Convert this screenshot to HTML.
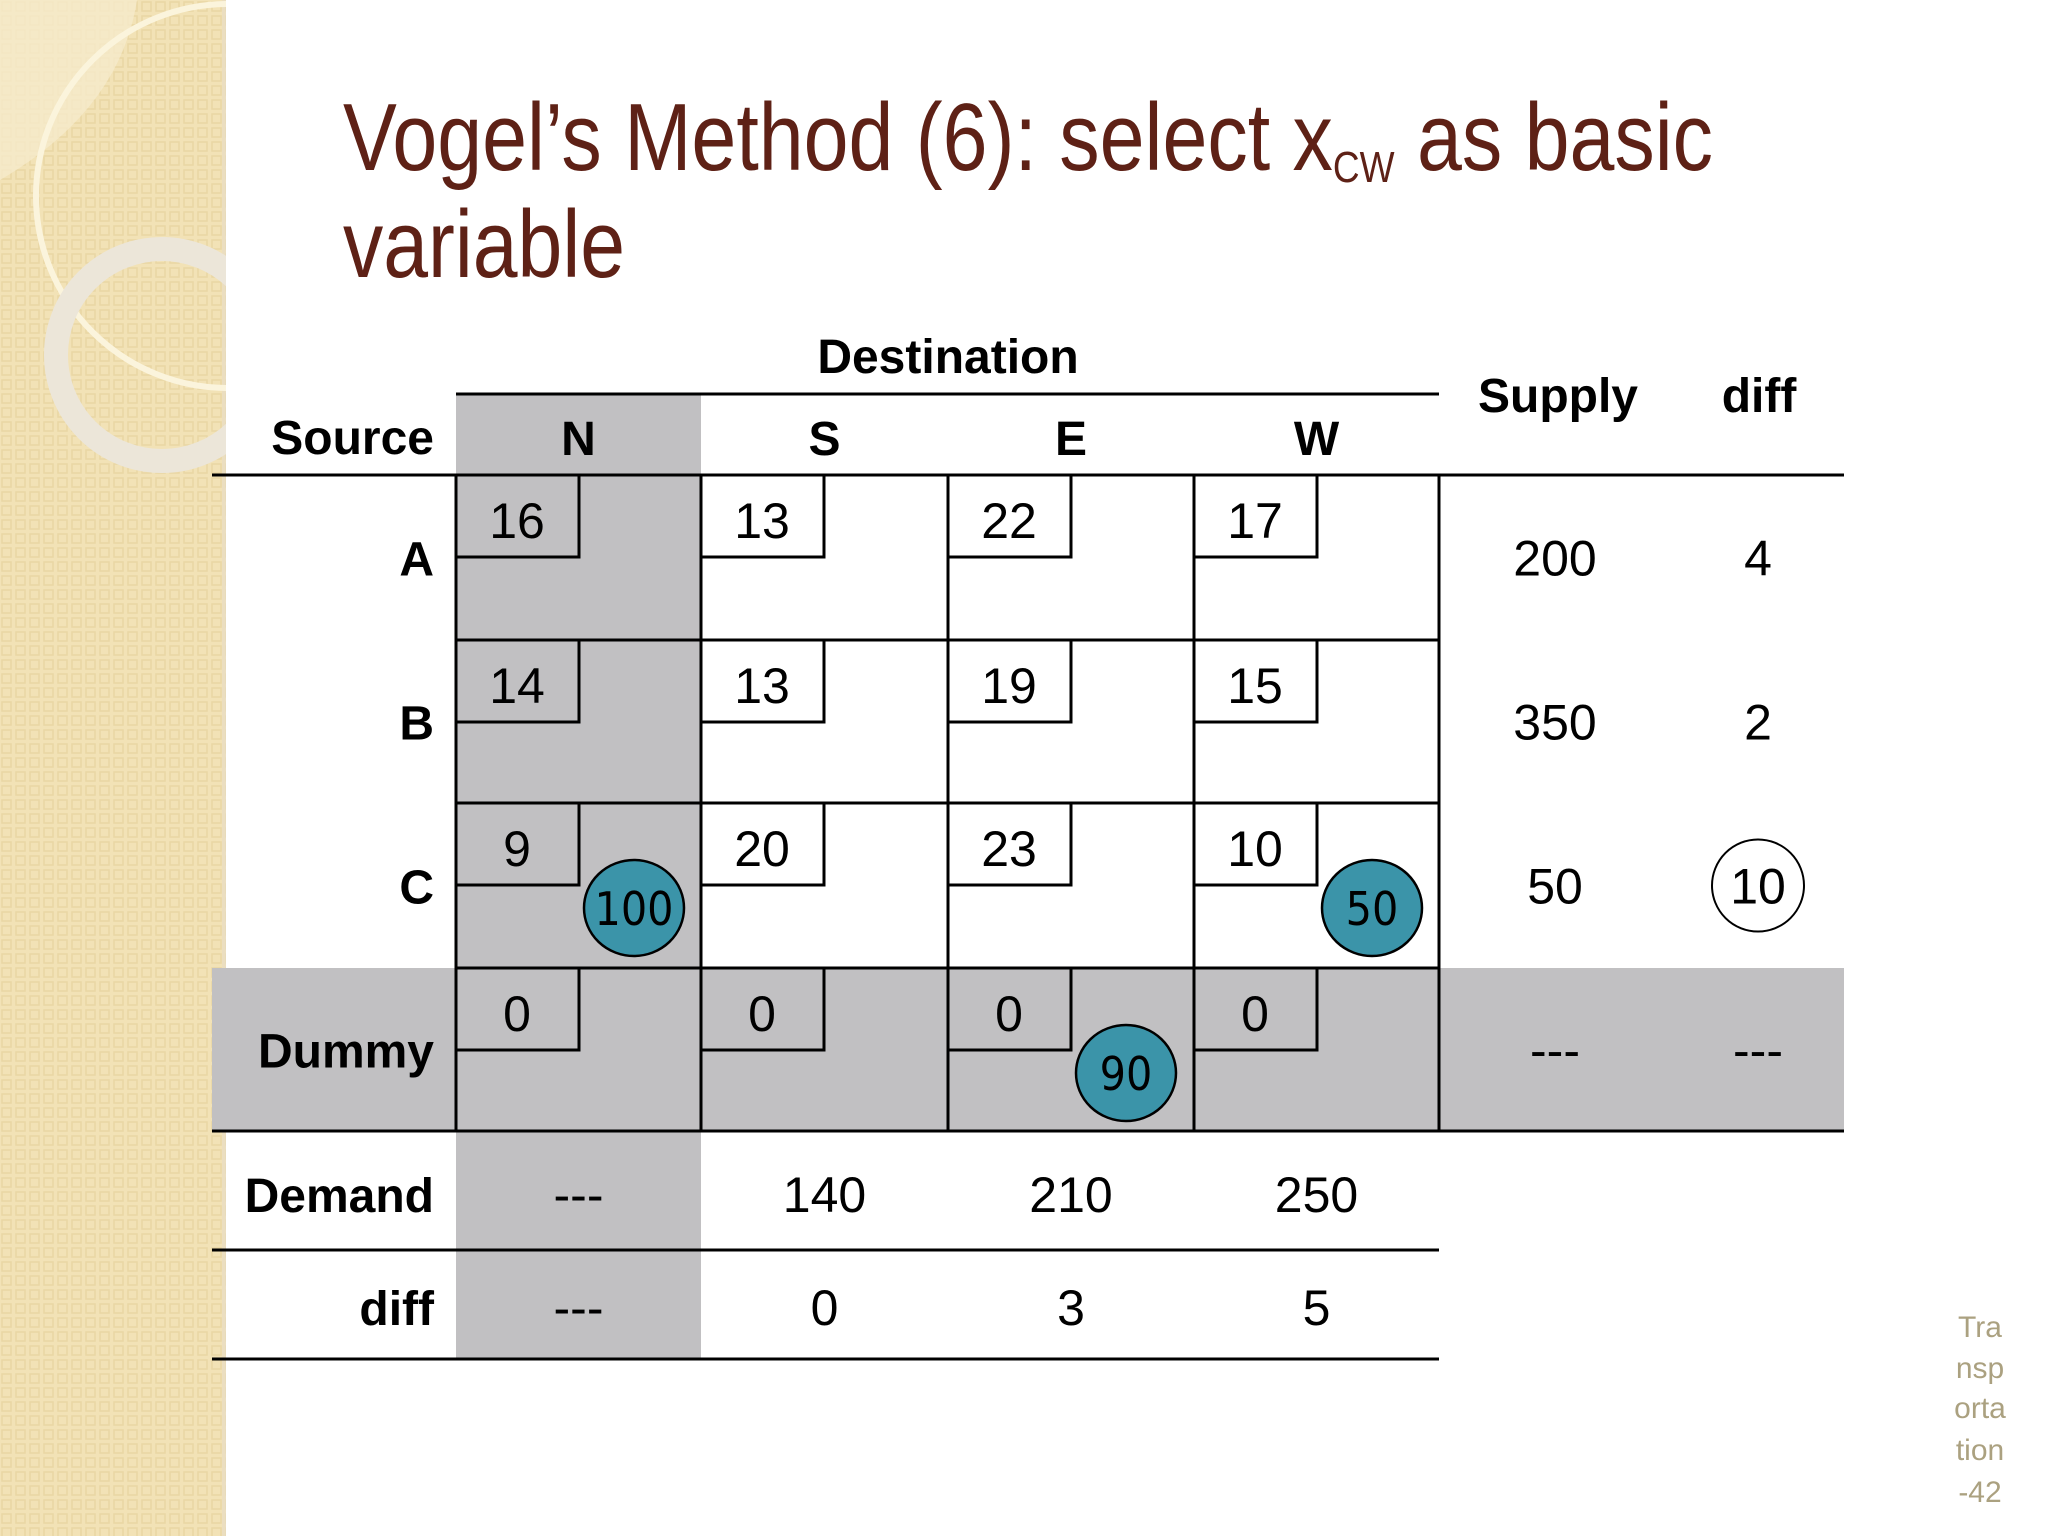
<!DOCTYPE html>
<html><head><meta charset="utf-8"><style>
html,body{margin:0;padding:0;background:#fff}
svg{display:block}
text{font-family:"Liberation Sans",Arial,sans-serif}
</style></head><body>
<svg id="s" width="2048" height="1536" viewBox="0 0 2048 1536" xmlns="http://www.w3.org/2000/svg">
<defs>
<pattern id="pt" width="14" height="14" patternUnits="userSpaceOnUse">
<rect width="14" height="14" fill="#f2e2b6"/>
<rect x="2" y="2" width="9" height="9" fill="none" stroke="#e9d6a4" stroke-width="1.5"/>
</pattern>
<clipPath id="cp"><rect x="0" y="0" width="226" height="1536"/></clipPath>
</defs>
<g clip-path="url(#cp)">
<rect x="0" y="0" width="226" height="1536" fill="url(#pt)"/>
<rect x="222" y="0" width="6" height="1536" fill="#e6dcc6" opacity="0.6"/>
<path d="M0 0 H137 Q120 110 0 180 Z" fill="#f6eccf" opacity="0.7"/>
<circle cx="228" cy="196" r="192" fill="none" stroke="#fbf4dc" stroke-width="6"/>
<circle cx="162" cy="355" r="106" fill="none" stroke="#ece6d9" stroke-width="24"/>
</g>
<g fill="#5e2116" font-size="96" style="font-family:'DejaVu Sans','Liberation Sans',sans-serif">
<text x="343" y="170" textLength="1370" lengthAdjust="spacingAndGlyphs">Vogel’s Method (6): select x<tspan font-size="44" dy="12">CW</tspan><tspan dy="-12"> as basic</tspan></text>
<text x="343" y="277" textLength="282" lengthAdjust="spacingAndGlyphs">variable</text>
</g>
<g id="tbl"></g>
<g fill="#aba180" font-size="30" text-anchor="middle" style="font-family:'DejaVu Sans',sans-serif">
<text x="1980" y="1337">Tra</text><text x="1980" y="1378">nsp</text><text x="1980" y="1418">orta</text><text x="1980" y="1460">tion</text><text x="1980" y="1502">-42</text>
</g>
</svg>
<script>
const sources=["A","B","C","Dummy"];
const dests=["N","S","E","W"];
const costs=[[16,13,22,17],[14,13,19,15],[9,20,23,10],[0,0,0,0]];
const allocations=[[null,null,null,null],[null,null,null,null],[100,null,null,50],[null,null,90,null]];
const supply=["200","350","50","---"];
const rowDiff=["4","2","10","---"];
const demand=["---","140","210","250"];
const colDiff=["---","0","3","5"];
const circledRowDiff=2;

const NS="http://www.w3.org/2000/svg";
const g=document.getElementById('tbl');
function mk(t,a,txt){const e=document.createElementNS(NS,t);for(const k in a)e.setAttribute(k,a[k]);if(txt!==undefined)e.textContent=txt;g.appendChild(e);return e;}
const colX=[456,701,948,1194,1439];
const rowY=[475,640,803,968,1131];
const L=212,R=1844,supX=1555,difX=1758;
const cx=i=>(colX[i]+colX[i+1])/2;
const cy=j=>(rowY[j]+rowY[j+1])/2;
const gray="#c1c0c2";
let e=mk('rect',{x:colX[0],y:394,width:colX[1]-colX[0],height:1359-394,fill:gray});


e=mk('rect',{x:L,y:rowY[3],width:R-L,height:rowY[4]-rowY[3],fill:gray});


function T(x,y,s,opt,name){const a=Object.assign({x:x,y:y,'font-size':50,'text-anchor':'middle',fill:'#000'},opt||{});const t=mk('text',a,s);


return t;}
T(948,373,"Destination",{'font-weight':'bold','font-size':48},'destination-header');
T(1558,412,"Supply",{'font-weight':'bold','font-size':48},'supply-header');
T(1759,412,"diff",{'font-weight':'bold','font-size':48},'row-diff-header');
T(434,454,"Source",{'font-weight':'bold','font-size':48,'text-anchor':'end'},'source-header');
dests.forEach((d,i)=>T(cx(i),455,d,{'font-weight':'bold','font-size':48},'dest-header-'+d.toLowerCase()));
sources.forEach((s,j)=>{
 T(434,cy(j)+18,s,{'font-weight':'bold','font-size':48,'text-anchor':'end'},'source-label-'+s.toLowerCase());
 dests.forEach((d,i)=>{
  const x0=colX[i],y0=rowY[j];
  const b=mk('path',{d:`M${x0} ${y0+82} H${x0+123} V${y0}`,fill:'none',stroke:'#000','stroke-width':3});
  
  
  T(x0+61,y0+63,String(costs[j][i]),{},'cost-'+s.toLowerCase()+'-'+d.toLowerCase());
  const v=allocations[j][i];
  if(v!==null){
   const c=mk('ellipse',{cx:x0+178,cy:y0+105,rx:50,ry:48,fill:'#3b94a9',stroke:'#000','stroke-width':2.5});
   
   
   T(x0+178,y0+122,String(v),{'font-size':46,style:"font-family:'DejaVu Sans Condensed','DejaVu Sans',sans-serif"},'allocation-'+s.toLowerCase()+'-'+d.toLowerCase());
  }
 });
 T(supX,cy(j)+18,supply[j],{},'supply-'+s.toLowerCase());
 if(j===circledRowDiff){const c=mk('circle',{cx:difX,cy:cy(j),r:46,fill:'none',stroke:'#000','stroke-width':2});
 
 }
 T(difX,cy(j)+18,rowDiff[j],{},'row-diff-'+s.toLowerCase());
});
T(434,1212,"Demand",{'font-weight':'bold','font-size':48,'text-anchor':'end'},'demand-label');
T(434,1325,"diff",{'font-weight':'bold','font-size':48,'text-anchor':'end'},'col-diff-label');
dests.forEach((d,i)=>{T(cx(i),1212,demand[i],{},'demand-'+d.toLowerCase());T(cx(i),1325,colDiff[i],{},'col-diff-'+d.toLowerCase());});
function ln(x1,y1,x2,y2){const l=mk('line',{x1:x1,y1:y1,x2:x2,y2:y2,stroke:'#000','stroke-width':3});

}
ln(colX[0],394,colX[4],394);
ln(L,rowY[0],R,rowY[0]);
rowY.slice(1,4).forEach(y=>ln(colX[0],y,colX[4],y));
ln(L,rowY[4],R,rowY[4]);
ln(L,1250,colX[4],1250);
ln(L,1359,colX[4],1359);
colX.forEach(x=>ln(x,rowY[0],x,rowY[4]));
</script>
</body></html>
